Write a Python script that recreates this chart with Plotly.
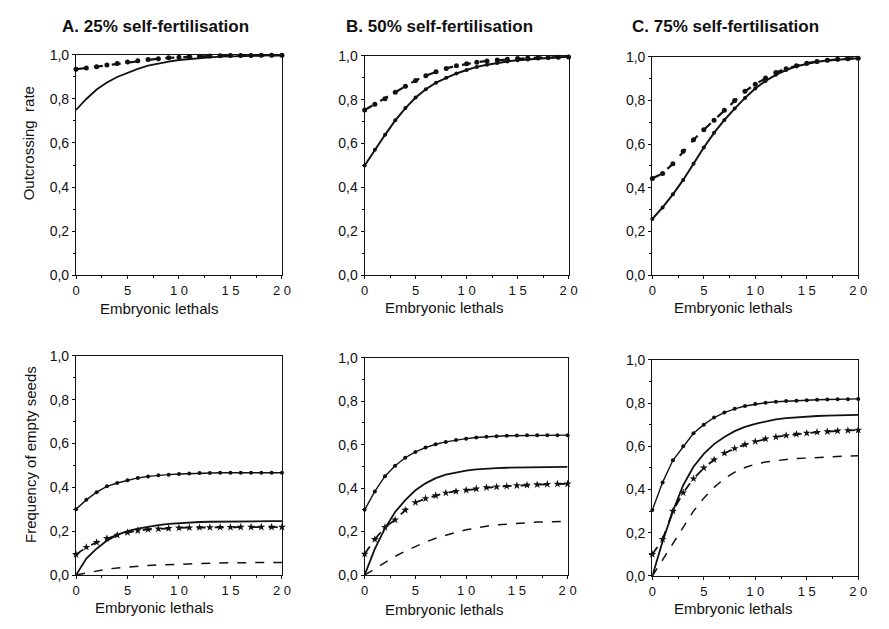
import plotly.graph_objects as go

# page body has an 8px default margin: figure is sized to fit the 889x629 window exactly
OFF = 8
W, H = 889 - 2 * OFF, 629 - 2 * OFF
lethals = list(range(21))

# ---- top row: outcrossing rate ----
out_A_solid = [0.75, 0.80, 0.843, 0.875, 0.90, 0.92, 0.937, 0.951, 0.962, 0.97, 0.977,
               0.982, 0.986, 0.989, 0.992, 0.994, 0.995, 0.996, 0.997, 0.998, 0.998]
out_A_dash = [0.935, 0.941, 0.947, 0.954, 0.961, 0.968, 0.974, 0.979, 0.983, 0.987, 0.99,
              0.992, 0.994, 0.995, 0.996, 0.997, 0.998, 0.998, 0.999, 0.999, 0.999]
out_B_solid = [0.50, 0.572, 0.64, 0.706, 0.762, 0.81, 0.848, 0.878, 0.90, 0.92, 0.936,
               0.95, 0.96, 0.968, 0.975, 0.98, 0.984, 0.988, 0.991, 0.994, 0.996]
out_B_dash = [0.753, 0.779, 0.805, 0.834, 0.862, 0.888, 0.91, 0.928, 0.943, 0.955, 0.964,
              0.971, 0.977, 0.981, 0.985, 0.988, 0.99, 0.992, 0.993, 0.994, 0.995]
out_C_solid = [0.257, 0.31, 0.37, 0.436, 0.51, 0.585, 0.652, 0.711, 0.763, 0.812, 0.855,
               0.89, 0.918, 0.94, 0.957, 0.969, 0.978, 0.984, 0.988, 0.991, 0.994]
out_C_dash = [0.443, 0.466, 0.51, 0.567, 0.62, 0.666, 0.71, 0.755, 0.80, 0.842, 0.875,
              0.903, 0.928, 0.946, 0.96, 0.971, 0.979, 0.985, 0.989, 0.992, 0.994]

# ---- bottom row: frequency of empty seeds ----
emp_A_dot = [0.30, 0.343, 0.378, 0.405, 0.42, 0.433, 0.443, 0.45, 0.455, 0.458, 0.461,
             0.463, 0.465, 0.466, 0.467, 0.467, 0.467, 0.467, 0.467, 0.467, 0.467]
emp_A_solid = [0.0, 0.075, 0.12, 0.157, 0.183, 0.2, 0.212, 0.221, 0.228, 0.233, 0.237,
               0.24, 0.242, 0.243, 0.244, 0.245, 0.246, 0.246, 0.246, 0.246, 0.246]
emp_A_star = [0.093, 0.127, 0.149, 0.167, 0.182, 0.194, 0.203, 0.208, 0.211, 0.213, 0.215,
              0.216, 0.217, 0.217, 0.218, 0.218, 0.219, 0.219, 0.219, 0.219, 0.219]
emp_A_dash = [0.0, 0.01, 0.02, 0.027, 0.032, 0.037, 0.041, 0.044, 0.046, 0.048, 0.05,
              0.052, 0.053, 0.054, 0.055, 0.056, 0.057, 0.057, 0.057, 0.057, 0.057]

emp_B_dot = [0.30, 0.385, 0.455, 0.503, 0.54, 0.567, 0.587, 0.602, 0.613, 0.622, 0.628,
             0.633, 0.637, 0.639, 0.641, 0.642, 0.643, 0.644, 0.644, 0.644, 0.644]
emp_B_solid = [0.0, 0.12, 0.215, 0.29, 0.345, 0.39, 0.422, 0.446, 0.462, 0.473, 0.481,
               0.486, 0.49, 0.492, 0.494, 0.495, 0.496, 0.497, 0.497, 0.498, 0.498]
emp_B_star = [0.097, 0.164, 0.22, 0.254, 0.299, 0.334, 0.352, 0.366, 0.378, 0.385, 0.391,
              0.397, 0.403, 0.406, 0.409, 0.412, 0.414, 0.416, 0.418, 0.419, 0.42]
emp_B_dash = [0.0, 0.03, 0.06, 0.086, 0.11, 0.132, 0.152, 0.169, 0.184, 0.197, 0.208,
              0.217, 0.225, 0.231, 0.235, 0.239, 0.242, 0.244, 0.245, 0.246, 0.247]

emp_C_dot = [0.305, 0.433, 0.535, 0.60, 0.66, 0.70, 0.733, 0.756, 0.773, 0.786, 0.795,
             0.801, 0.806, 0.809, 0.811, 0.813, 0.815, 0.816, 0.817, 0.818, 0.819]
emp_C_solid = [0.0, 0.16, 0.30, 0.42, 0.505, 0.565, 0.61, 0.643, 0.67, 0.69, 0.704,
               0.715, 0.724, 0.73, 0.734, 0.737, 0.74, 0.742, 0.743, 0.744, 0.745]
emp_C_star = [0.10, 0.17, 0.30, 0.385, 0.45, 0.50, 0.538, 0.568, 0.59, 0.608, 0.622,
              0.634, 0.643, 0.65, 0.656, 0.661, 0.665, 0.668, 0.671, 0.673, 0.675]
emp_C_dash = [0.0, 0.075, 0.148, 0.228, 0.30, 0.36, 0.41, 0.45, 0.48, 0.502, 0.517,
              0.527, 0.534, 0.539, 0.543, 0.546, 0.549, 0.551, 0.553, 0.555, 0.556]

panel_titles = ["A. 25% self-fertilisation", "B. 50% self-fertilisation", "C. 75% self-fertilisation"]
x_title = "Embryonic lethals"
y_title_top = "Outcrossing  rate"
y_title_bottom = "Frequency of empty seeds"
y_ticks = [0, 0.2, 0.4, 0.6, 0.8, 1.0]
y_ticklabels = ["0,0", "0,2", "0,4", "0,6", "0,8", "1,0"]
x_ticks = [0, 5, 10, 15, 20]
x_ticklabels = ["0", "5", "1 0", "1 5", "2 0"]

FONT = "Liberation Sans, Arial, sans-serif"
BLACK = "#111111"

# pixel boxes in window coordinates (left, right, top, bottom)
boxes = [
    (73, 282, 48, 274), (366, 573, 49, 274), (658, 867, 50, 274),
    (73, 282, 357, 582), (366, 572, 359, 582), (658, 867, 361, 583),
]

fig = go.Figure()


def px2x(p):
    return (p - OFF) / W


def px2y(p):
    return 1 - (p - OFF) / H


def add_line(i, y, dash="solid", marker=None, msize=5, width=1.5):
    ax = "" if i == 0 else str(i + 1)
    mode = "lines+markers" if marker else "lines"
    fig.add_trace(go.Scatter(
        x=lethals, y=y, mode=mode, xaxis="x" + ax, yaxis="y" + ax,
        line=dict(color=BLACK, width=width, dash=dash),
        marker=dict(symbol=marker or "circle", size=msize, color=BLACK,
                    line=dict(width=0)),
        cliponaxis=False, showlegend=False, hoverinfo="skip"))


# top row
add_line(0, out_A_solid, "solid", width=1.8)
add_line(0, out_A_dash, "dash", "circle", 5, 2.2)
add_line(1, out_B_solid, "solid", "circle", 4, 2)
add_line(1, out_B_dash, "dash", "circle", 5, 2.2)
add_line(2, out_C_solid, "solid", "circle", 4, 2)
add_line(2, out_C_dash, "dash", "circle", 5, 2.2)

# bottom row
for i, (dot, sol, star, dash) in zip(
        [3, 4, 5],
        [(emp_A_dot, emp_A_solid, emp_A_star, emp_A_dash),
         (emp_B_dot, emp_B_solid, emp_B_star, emp_B_dash),
         (emp_C_dot, emp_C_solid, emp_C_star, emp_C_dash)]):
    add_line(i, dot, "solid", "circle", 4, 1.4)
    add_line(i, sol, "solid", None, width=1.8)
    add_line(i, star, "dash", "star", 6, 1.8)
    add_line(i, dash, "dash", None, width=1.5)

layout = dict(
    width=W, height=H, margin=dict(l=0, r=0, t=0, b=0),
    paper_bgcolor="white", plot_bgcolor="white",
    font=dict(family=FONT, size=14, color=BLACK),
    showlegend=False,
)

for i, (l, r, t, b) in enumerate(boxes):
    suffix = "" if i == 0 else str(i + 1)
    common = dict(showline=True, linecolor=BLACK, linewidth=1.2, mirror=True,
                  showgrid=False, zeroline=False, ticks="outside", ticklen=3,
                  tickwidth=1, tickcolor=BLACK)
    layout["xaxis" + suffix] = dict(
        domain=[px2x(l), px2x(r)], range=[0, 20], anchor="y" + suffix,
        tickvals=x_ticks, ticktext=x_ticklabels, tickfont=dict(size=13, family=FONT),
        minor=dict(tickvals=[2.5, 7.5, 12.5, 17.5], ticklen=2, tickcolor=BLACK, ticks="outside"),
        **common)
    layout["yaxis" + suffix] = dict(
        domain=[px2y(b), px2y(t)], range=[0, 1], anchor="x" + suffix,
        tickvals=y_ticks, ticktext=y_ticklabels, tickfont=dict(size=14, family=FONT),
        minor=dict(tickvals=[0.1, 0.3, 0.5, 0.7, 0.9], ticklen=2, tickcolor=BLACK, ticks="outside"),
        **common)

fig.update_layout(**layout)

ann = []
for title, xl in zip(panel_titles, [57, 345, 635]):
    ann.append(dict(text="<b>" + title + "</b>", x=px2x(xl), y=px2y(19), xref="paper", yref="paper",
                    xanchor="left", yanchor="middle", showarrow=False,
                    font=dict(size=17, family=FONT, color=BLACK)))
for xc, yc in [(157, 308), (447, 307), (740, 307), (152, 615), (447, 617), (740, 616)]:
    ann.append(dict(text=x_title, x=px2x(xc), y=px2y(yc), xref="paper", yref="paper",
                    xanchor="center", yanchor="middle", showarrow=False,
                    font=dict(size=15, family=FONT, color=BLACK)))
ann.append(dict(text=y_title_top, x=px2x(25), y=px2y(139), xref="paper", yref="paper",
                xanchor="center", yanchor="middle", showarrow=False, textangle=-90,
                font=dict(size=15, family=FONT, color=BLACK)))
ann.append(dict(text=y_title_bottom, x=px2x(27), y=px2y(458), xref="paper", yref="paper",
                xanchor="center", yanchor="middle", showarrow=False, textangle=-90,
                font=dict(size=15, family=FONT, color=BLACK)))
fig.update_layout(annotations=ann)

fig.write_html("out.html")
